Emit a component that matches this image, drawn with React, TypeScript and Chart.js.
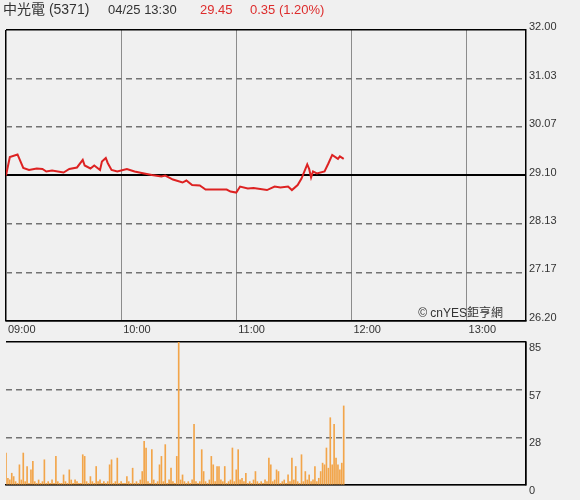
import React, { useEffect, useRef } from 'react';
import { Chart, registerables } from 'chart.js';

Chart.register(...registerables);

const FONT = 'Arial, "Liberation Sans", "Noto Sans CJK TC", sans-serif';

const STOCK_NAME = '中光電 (5371)';
const STAMP = '04/25 13:30';
const LAST_PRICE = '29.45';
const CHANGE = '0.35 (1.20%)';
const WATERMARK = '© cnYES鉅亨網';

const PREV_CLOSE = 29.1;
const PRICE_MIN = 26.2;
const PRICE_MAX = 32.0;
const PRICE_TICKS = [26.2, 27.17, 28.13, 29.1, 30.07, 31.03, 32.0];

const VOLUME_MAX = 85;
const VOLUME_TICKS = [0, 28.33, 56.67, 85];
const VOLUME_TICK_LABELS = ['0', '28', '57', '85'];

const SESSION_MINUTES = 271;
const TIME_TICKS = [0, 60, 120, 180, 240];
const TIME_LABELS = ['09:00', '10:00', '11:00', '12:00', '13:00'];

// minutes after 09:00 and traded price
const PRICE_MINUTES = [
  0, 2, 6, 9, 12, 16, 19, 21, 24, 30, 33, 37, 40, 41, 44, 46, 49, 50, 52, 53,
  55, 58, 63, 67, 72, 76, 81, 83, 87, 92, 94, 97, 101, 104, 115, 117, 120, 122, 126, 129,
  136, 140, 143, 147, 149, 152, 154, 157, 158, 159, 160, 162, 166, 168, 170, 173, 174, 176,
];
const PRICES = [
  29.1, 29.47, 29.52, 29.25, 29.21, 29.24, 29.23, 29.18, 29.2, 29.16, 29.23, 29.26, 29.41, 29.3, 29.24, 29.3, 29.21, 29.38, 29.45, 29.35,
  29.21, 29.18, 29.23, 29.18, 29.14, 29.11, 29.08, 29.1, 29.02, 28.96, 29.0, 28.91, 28.9, 28.82, 28.82, 28.78, 28.76, 28.88, 28.84, 28.85,
  28.81, 28.88, 28.86, 28.88, 28.81, 28.91, 29.04, 29.32, 29.23, 29.06, 29.18, 29.14, 29.18, 29.34, 29.51, 29.43, 29.48, 29.43,
];

// volume per minute, starting at 09:00
const VOLUMES = [
  19, 4, 3, 7, 5, 2, 1, 12, 3, 19,
  2, 11, 1, 9, 14, 2, 1, 3, 1, 2,
  15, 1, 2, 1, 3, 1, 17, 2, 1, 1,
  6, 2, 1, 9, 3, 1, 3, 2, 1, 1,
  18, 17, 2, 1, 5, 2, 1, 11, 2, 3,
  1, 2, 1, 2, 12, 15, 1, 2, 16, 1,
  2, 1, 1, 5, 2, 1, 10, 1, 2, 1,
  3, 8, 26, 22, 2, 1, 21, 3, 1, 2,
  12, 17, 2, 24, 1, 3, 10, 2, 1, 17,
  85, 3, 6, 2, 1, 2, 1, 3, 36, 2,
  1, 2, 21, 8, 2, 1, 3, 17, 12, 2,
  11, 11, 3, 2, 11, 1, 2, 3, 22, 2,
  9, 21, 3, 4, 2, 7, 1, 2, 1, 3,
  8, 2, 1, 2, 1, 3, 2, 16, 12, 2,
  3, 9, 8, 1, 2, 3, 1, 6, 2, 16,
  3, 11, 2, 1, 18, 2, 8, 3, 6, 2,
  3, 11, 2, 4, 8, 13, 12, 22, 10, 40,
  12, 36, 16, 12, 9, 13, 47,
];

const near = (a: number, b: number) => Math.abs(a - b) < 1e-6;

const DASH_COLOR = '#737373';
const DASH_WIDTH = 1.5;
const DASH = [6, 4];

const headerPlugin = {
  id: 'header',
  afterDraw(chart: any) {
    const ctx = chart.ctx;
    ctx.save();
    ctx.textAlign = 'left';
    ctx.textBaseline = 'middle';
    ctx.font = `14px ${FONT}`;
    ctx.fillStyle = '#333333';
    ctx.fillText(STOCK_NAME, 3, 10);
    ctx.font = `13px ${FONT}`;
    ctx.fillText(STAMP, 108, 10);
    ctx.fillStyle = '#dd2c2c';
    ctx.fillText(LAST_PRICE, 200, 10);
    ctx.fillText(CHANGE, 250, 10);
    ctx.font = `12px ${FONT}`;
    ctx.fillStyle = '#333333';
    ctx.textAlign = 'right';
    ctx.fillText(WATERMARK, 503, 314);
    ctx.restore();
  },
};

const noPad = (a: any) => {
  a.paddingTop = 0;
  a.paddingBottom = 0;
  a.paddingLeft = 0;
  a.paddingRight = 0;
};

export default function App() {
  const priceRef = useRef<HTMLCanvasElement>(null);
  const volRef = useRef<HTMLCanvasElement>(null);

  useEffect(() => {
    document.body.style.margin = '0';
    document.body.style.background = '#f0f0f0';
    Chart.defaults.font.family = FONT;

    const tickFont = { size: 11, family: FONT };

    const priceChart = new Chart(priceRef.current!, {
      type: 'line',
      data: {
        datasets: [
          {
            data: PRICE_MINUTES.map((m, i) => ({ x: m, y: PRICES[i] })),
            borderColor: '#dd2222',
            borderWidth: 2,
            pointRadius: 0,
            tension: 0,
            fill: false,
          },
        ],
      },
      options: {
        animation: false,
        responsive: false,
        layout: { padding: { left: 6, top: 30, right: 0, bottom: 0 } },
        plugins: { legend: { display: false }, tooltip: { enabled: false } },
        scales: {
          x: {
            type: 'linear',
            min: 0,
            max: SESSION_MINUTES,
            afterBuildTicks: (a: any) => {
              a.ticks = TIME_TICKS.map((v) => ({ value: v }));
            },
            afterFit: (a: any) => {
              a.height = 19;
              noPad(a);
            },
            ticks: {
              callback: (v: any) => TIME_LABELS[TIME_TICKS.indexOf(Number(v))] ?? '',
              align: 'start',
              labelOffset: 2,
              padding: 2,
              color: '#333333',
              font: tickFont,
              maxRotation: 0,
              autoSkip: false,
            },
            grid: {
              drawTicks: false,
              color: (c: any) => (c.tick && c.tick.value === 0 ? '#000000' : '#8c8c8c'),
              lineWidth: (c: any) => (c.tick && c.tick.value === 0 ? 1.5 : 1),
            },
            border: { display: true, color: '#000000', width: 1.5 },
          },
          y: {
            position: 'right',
            min: PRICE_MIN,
            max: PRICE_MAX,
            afterBuildTicks: (a: any) => {
              a.ticks = PRICE_TICKS.map((v) => ({ value: v }));
            },
            afterFit: (a: any) => {
              a.width = 54;
              noPad(a);
            },
            ticks: {
              callback: (v: any) => Number(v).toFixed(2),
              padding: 3,
              labelOffset: -3,
              color: '#333333',
              font: tickFont,
              autoSkip: false,
            },
            grid: {
              drawTicks: false,
              color: (c: any) => {
                const v = c.tick ? c.tick.value : NaN;
                if (near(v, PRICE_MAX) || near(v, PRICE_MIN) || near(v, PREV_CLOSE)) return '#000000';
                return DASH_COLOR;
              },
              lineWidth: (c: any) => {
                const v = c.tick ? c.tick.value : NaN;
                if (near(v, PREV_CLOSE)) return 2;
                if (near(v, PRICE_MAX) || near(v, PRICE_MIN)) return 1.5;
                return DASH_WIDTH;
              },
            },
            border: {
              display: true,
              color: '#000000',
              width: 1.5,
              dash: (c: any) => {
                const v = c.tick ? c.tick.value : NaN;
                if (!c.tick || near(v, PRICE_MAX) || near(v, PRICE_MIN) || near(v, PREV_CLOSE)) return [];
                return DASH;
              },
            },
          },
        },
      } as any,
      plugins: [headerPlugin],
    });

    const volChart = new Chart(volRef.current!, {
      type: 'bar',
      data: {
        datasets: [
          {
            data: VOLUMES.map((v, i) => ({ x: i, y: v })),
            backgroundColor: '#f2a54a',
            barThickness: 1,
          },
        ],
      },
      options: {
        animation: false,
        responsive: false,
        layout: { padding: { left: 6, top: 2, right: 0, bottom: 0 } },
        plugins: { legend: { display: false }, tooltip: { enabled: false } },
        scales: {
          x: {
            type: 'linear',
            min: 0,
            max: SESSION_MINUTES,
            offset: false,
            afterBuildTicks: (a: any) => {
              a.ticks = [{ value: 0 }];
            },
            afterFit: (a: any) => {
              a.height = 15;
              noPad(a);
            },
            ticks: { display: false },
            grid: { drawTicks: false, color: '#000000', lineWidth: 1.5 },
            border: { display: true, color: '#000000', width: 1.5 },
          },
          y: {
            position: 'right',
            min: 0,
            max: VOLUME_MAX,
            afterBuildTicks: (a: any) => {
              a.ticks = VOLUME_TICKS.map((v) => ({ value: v }));
            },
            afterFit: (a: any) => {
              a.width = 54;
              noPad(a);
            },
            ticks: {
              callback: (v: any) => VOLUME_TICK_LABELS[VOLUME_TICKS.indexOf(Number(v))] ?? '',
              padding: 3,
              labelOffset: 6,
              color: '#333333',
              font: tickFont,
              autoSkip: false,
            },
            grid: {
              drawTicks: false,
              color: (c: any) => (c.tick && near(c.tick.value, VOLUME_MAX) ? '#000000' : DASH_COLOR),
              lineWidth: (c: any) => (c.tick && near(c.tick.value, VOLUME_MAX) ? 1.5 : DASH_WIDTH),
            },
            border: {
              display: true,
              color: '#000000',
              width: 1.5,
              dash: (c: any) => (!c.tick || near(c.tick.value, VOLUME_MAX) || c.tick.value === 0 ? [] : DASH),
            },
          },
        },
      } as any,
    });

    return () => {
      priceChart.destroy();
      volChart.destroy();
    };
  }, []);

  return (
    <div style={{ position: 'absolute', left: 0, top: 0, width: 580, height: 500, background: '#f0f0f0' }}>
      <canvas ref={priceRef} width={580} height={340} style={{ display: 'block' }} />
      <canvas ref={volRef} width={580} height={160} style={{ display: 'block' }} />
    </div>
  );
}
